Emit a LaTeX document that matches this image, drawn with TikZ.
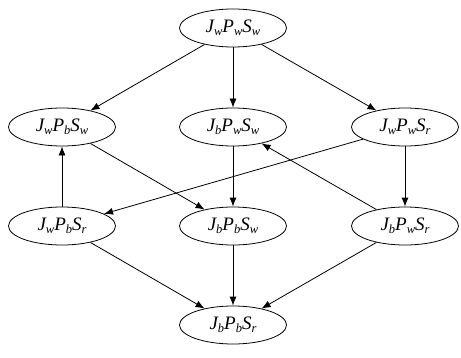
\documentclass[tikz,border=0pt]{standalone}
\usepackage{fontspec}
\setmainfont{Liberation Serif}
\usetikzlibrary{shapes.geometric,arrows.meta}
\newcommand{\mysub}[1]{\raisebox{-0.4ex}{\fontsize{12.5}{12.5}\selectfont #1}}
\newcommand{\lab}[3]{{\itshape J\mysub{#1}P\mysub{#2}S\mysub{#3}}}
\begin{document}
\begin{tikzpicture}[x=1pt,y=1pt,
  st/.style={ellipse,draw,line width=0.8pt,minimum width=107pt,minimum height=38pt,inner sep=0pt,font=\fontsize{19}{19}\selectfont},
  ed/.style={line width=0.8pt,-{Latex[length=9pt,width=7pt]}}]
\useasboundingbox (0,0) rectangle (461,357);
\node[st] (a) at (233,329) {\lab{w}{w}{w}};
\node[st] (b) at (62,230) {\lab{w}{b}{w}};
\node[st] (c) at (233,230) {\lab{b}{w}{w}};
\node[st] (d) at (405,230) {\lab{w}{w}{r}};
\node[st] (e) at (62,131) {\lab{w}{b}{r}};
\node[st] (f) at (233,131) {\lab{b}{b}{w}};
\node[st] (g) at (405,131) {\lab{b}{w}{r}};
\node[st] (h) at (233,32) {\lab{b}{b}{r}};
\draw[ed] (a) -- (b);
\draw[ed] (a) -- (c);
\draw[ed] (a) -- (d);
\draw[ed] (b) -- (f);
\draw[ed] (c) -- (f);
\draw[ed] (d) -- (e);
\draw[ed] (d) -- (g);
\draw[ed] (g) -- (c);
\draw[ed] (e) -- (b);
\draw[ed] (e) -- (h);
\draw[ed] (f) -- (h);
\draw[ed] (g) -- (h);
\end{tikzpicture}
\end{document}
